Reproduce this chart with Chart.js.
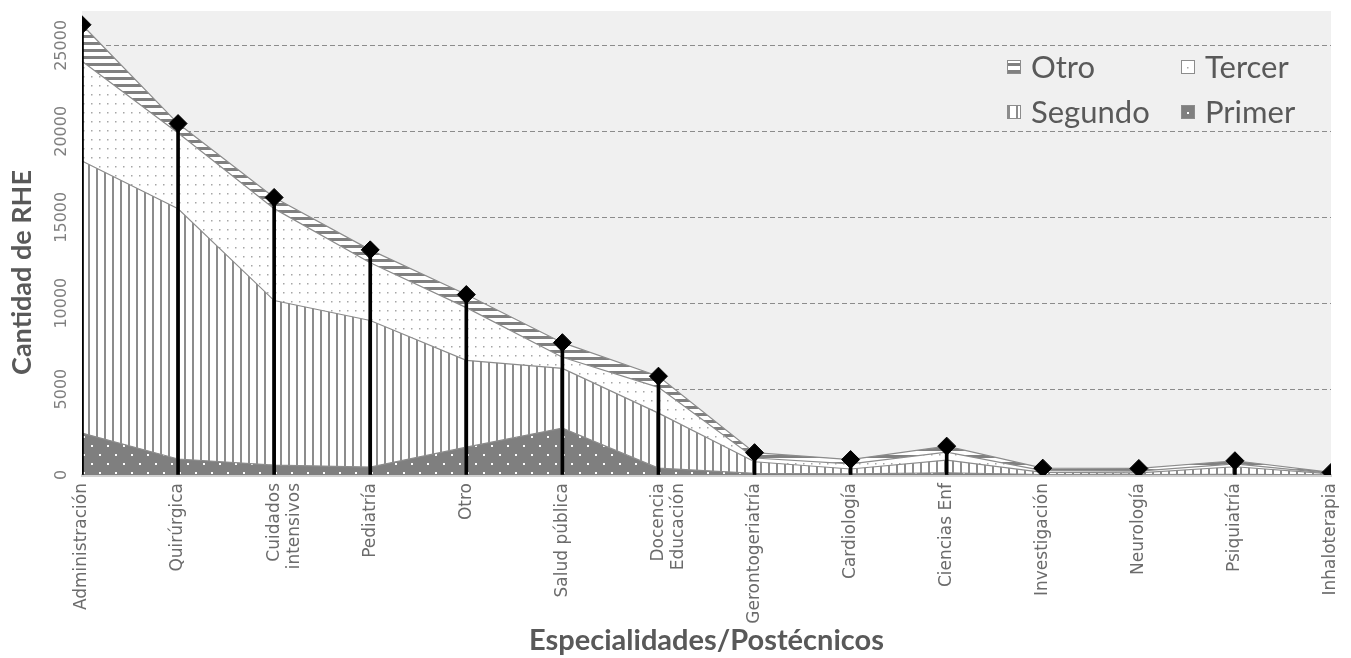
<!DOCTYPE html>
<html lang="es">
<head>
<meta charset="UTF-8">
<title>Cantidad de RHE por especialidad</title>
<script src="https://cdn.jsdelivr.net/npm/chart.js"></script>
<style>
  html, body { margin: 0; padding: 0; background: #ffffff; }
  #wrap { width: 1351px; height: 658px; }
</style>
</head>
<body>
<div id="wrap"><canvas id="chart" width="1351" height="658"></canvas></div>
<script>
// Datos
const categorias = ['Administración', 'Quirúrgica', ['Cuidados', 'intensivos'], 'Pediatría', 'Otro',
  'Salud pública', ['Docencia', 'Educación'], 'Gerontogeriatría', 'Cardiología', 'Ciencias Enf',
  'Investigación', 'Neurología', 'Psiquiatría', 'Inhaloterapia'];
const primer  = [2440, 930, 580, 460, 1620, 2730, 400, 100, 60, 130, 30, 20, 40, 10];
const segundo = [15830, 14560, 9570, 8530, 5050, 3470, 3200, 670, 290, 740, 120, 100, 440, 50];
const tercer  = [5800, 4410, 5350, 3360, 3070, 650, 1500, 220, 300, 460, 100, 110, 170, 40];
const otro    = [2130, 550, 650, 750, 760, 850, 650, 310, 250, 350, 150, 150, 180, 50];
const totales = [26200, 20450, 16150, 13100, 10500, 7700, 5750, 1300, 900, 1680, 400, 380, 830, 150];
const ticksY  = [0, 5000, 10000, 15000, 20000, 25000];

// Tramas para las áreas
function trama(w, h, dibujar) {
  const c = document.createElement('canvas');
  c.width = w; c.height = h;
  const g = c.getContext('2d');
  dibujar(g);
  return document.getElementById('chart').getContext('2d').createPattern(c, 'repeat');
}
const tramaPrimer = trama(16, 18, g => {
  g.fillStyle = '#7f7f7f'; g.fillRect(0, 0, 16, 18);
  g.fillStyle = '#ffffff'; g.fillRect(3, 4, 2, 2); g.fillRect(11, 13, 2, 2);
});
const tramaSegundo = trama(8, 4, g => {
  g.fillStyle = '#ffffff'; g.fillRect(0, 0, 8, 4);
  g.fillStyle = '#8c8c8c'; g.fillRect(0, 0, 2, 4);
});
const tramaTercer = trama(8, 9, g => {
  g.fillStyle = '#ffffff'; g.fillRect(0, 0, 8, 9);
  g.fillStyle = '#a6a6a6'; g.fillRect(3, 4, 1.5, 1.5);
});
const tramaOtro = trama(4, 7, g => {
  g.fillStyle = '#ffffff'; g.fillRect(0, 0, 4, 7);
  g.fillStyle = '#808080'; g.fillRect(0, 0, 4, 3);
});

// Fondo gris del área de trazado
const fondo = {
  id: 'fondo',
  beforeDraw(chart) {
    const {ctx, chartArea: a} = chart;
    ctx.save();
    ctx.fillStyle = '#f0f0f0';
    ctx.fillRect(a.left, a.top, a.right - a.left, a.bottom - a.top);
    ctx.restore();
  }
};

// Leyenda dentro del área (2 columnas)
const itemsLeyenda = [
  {ds: 3, x: 925, y: 56}, {ds: 2, x: 1099, y: 56},
  {ds: 1, x: 925, y: 101}, {ds: 0, x: 1099, y: 101}
];
const leyenda = {
  id: 'leyenda',
  afterDatasetsDraw(chart) {
    const {ctx, chartArea: a} = chart;
    ctx.save();
    ctx.font = '31px Lato';
    ctx.textBaseline = 'middle';
    itemsLeyenda.forEach(it => {
      const ds = chart.data.datasets[it.ds];
      const x = a.left + it.x, y = a.top + it.y;
      ctx.fillStyle = ds.backgroundColor;
      ctx.fillRect(x, y - 7, 14, 14);
      ctx.strokeStyle = '#8c8c8c';
      ctx.lineWidth = 1;
      ctx.strokeRect(x + 0.5, y - 6.5, 13, 13);
      ctx.fillStyle = '#595959';
      ctx.fillText(ds.label, x + 24, y + 1);
    });
    ctx.restore();
  }
};

const area = (label, data, fill, patron) => ({
  type: 'line', label, data, fill, stack: 'rhe', order: 3,
  backgroundColor: patron, borderColor: '#8c8c8c', borderWidth: 1.2,
  pointRadius: 0, tension: 0
});

new Chart(document.getElementById('chart'), {
  type: 'line',
  data: {
    labels: categorias,
    datasets: [
      area('Primer', primer, 'origin', tramaPrimer),
      area('Segundo', segundo, '-1', tramaSegundo),
      area('Tercer', tercer, '-1', tramaTercer),
      area('Otro', otro, '-1', tramaOtro),
      {
        type: 'bar', label: 'Total', data: totales, stack: 'linea', order: 1,
        backgroundColor: '#000000', barThickness: 3
      },
      {
        type: 'line', label: 'Total', data: totales, stack: 'punto', order: 0,
        showLine: false, pointStyle: 'rectRot', pointRadius: 9,
        pointBackgroundColor: '#000000', pointBorderColor: '#000000', clip: 0
      }
    ]
  },
  options: {
    responsive: false,
    animation: false,
    layout: { padding: { top: 11, right: 20, left: 0, bottom: 0 } },
    plugins: {
      legend: { display: false },
      tooltip: { enabled: false }
    },
    scales: {
      x: {
        offset: false,
        grid: { display: false, offset: false, drawTicks: false },
        border: { display: true, color: '#d0d0d0', width: 3 },
        ticks: {
          minRotation: 90, maxRotation: 90, autoSkip: false, padding: 8,
          color: '#6b6b6b', font: { family: 'DejaVu Sans', size: 17 }
        },
        title: {
          display: true, text: 'Especialidades/Postécnicos', color: '#595959',
          font: { family: 'Lato', size: 29, weight: 'bold' }, padding: { top: 0, bottom: 0 }
        },
        afterFit(s) { s.height = 183; s.paddingLeft = 0; s.paddingRight = 0; }
      },
      y: {
        stacked: true, min: 0, max: 27000,
        grid: {
          drawTicks: false, lineWidth: 1,
          color: c => (c.tick && c.tick.value === 0) ? 'rgba(0,0,0,0)' : '#8c8c8c'
        },
        border: { display: false, dash: [5, 3] },
        ticks: {
          stepSize: 5000, minRotation: 90, maxRotation: 90, crossAlign: 'center', padding: -5,
          color: '#7f7f7f', font: { family: 'DejaVu Sans', size: 16 },
          callback: v => String(v)
        },
        afterBuildTicks(s) { s.ticks = ticksY.map(v => ({ value: v })); },
        title: {
          display: true, text: 'Cantidad de RHE' + '\u00a0'.repeat(9), color: '#595959',
          font: { family: 'Lato', size: 27, weight: 'bold' }, padding: { top: 6, bottom: 0 }
        },
        afterFit(s) { s.width = 82; }
      }
    }
  },
  plugins: [fondo, leyenda]
});
</script>
</body>
</html>
